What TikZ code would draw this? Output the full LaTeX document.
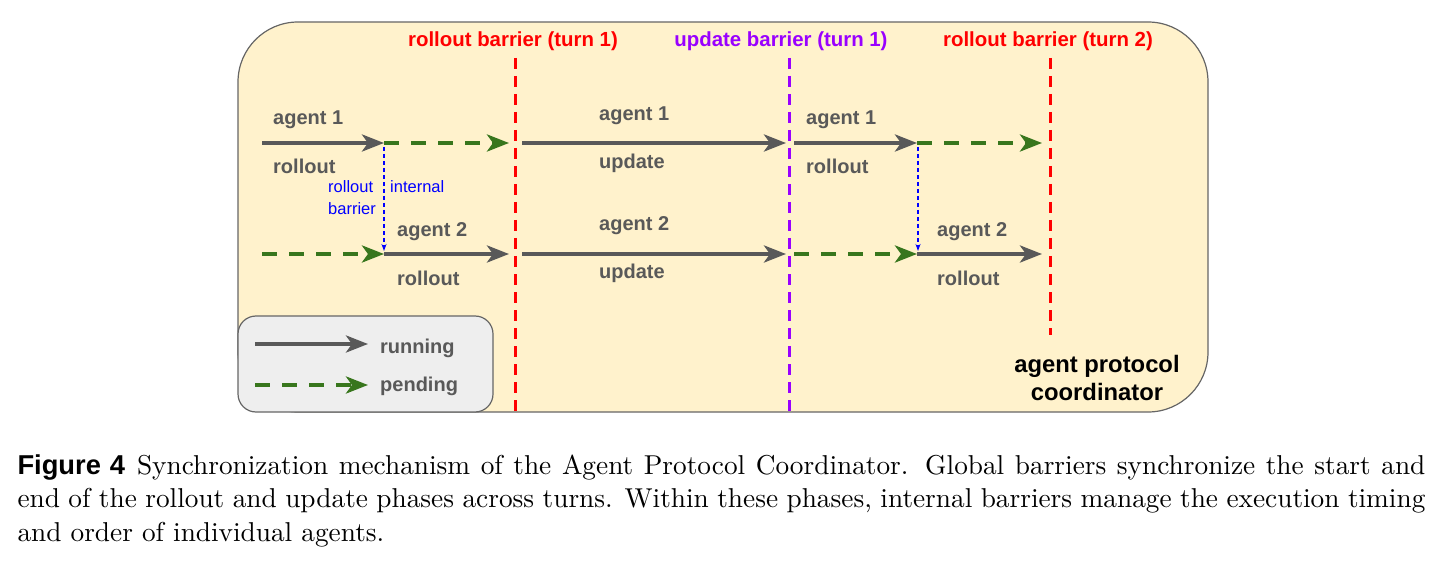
\documentclass[tikz,border=0pt]{standalone}
\usepackage{fontspec}
\newfontfamily\diag{Liberation Sans}
\usetikzlibrary{arrows.meta}
\definecolor{runc}{HTML}{595959}
\definecolor{pendc}{HTML}{38761D}
\definecolor{boxfill}{HTML}{FFF2CC}
\definecolor{boxline}{HTML}{666666}
\definecolor{legfill}{HTML}{EEEEEE}
\definecolor{redb}{HTML}{FF0000}
\definecolor{purpb}{HTML}{9900FF}
\definecolor{blueb}{HTML}{0000FF}
\begin{document}
\begin{tikzpicture}[x=1pt,y=-1pt,
  run/.style={draw=runc, line width=4pt, -{Stealth[length=22pt,width=17pt,inset=6pt]}},
  pend/.style={draw=pendc, line width=4pt, dash pattern=on 15pt off 12pt, -{Stealth[length=22pt,width=17pt,inset=6pt]}},
  barr/.style={line width=3pt, dash pattern=on 11pt off 7pt},
  intb/.style={draw=blueb, line width=1.3pt, dash pattern=on 4pt off 3pt, -{Stealth[length=7pt,width=5pt]}},
  lab/.style={font=\diag\bfseries\fontsize{20}{24}\selectfont, text=runc, inner sep=0pt, anchor=base west},
  blab/.style={font=\diag\fontsize{16.5}{20}\selectfont, text=blueb, inner sep=0pt, anchor=base west},
  blabel/.style={font=\diag\bfseries\fontsize{20.4}{24}\selectfont, inner sep=0pt, anchor=base},
]
\useasboundingbox (0,0) rectangle (1442,561);

% containers
\draw[draw=boxline, fill=boxfill, line width=1.2pt, rounded corners=60pt] (238,22) rectangle (1208,412);
\draw[draw=boxline, fill=legfill, line width=1.2pt, rounded corners=18pt] (238,316) rectangle (493,412);

% barriers
\coordinate (rb1t) at (515,58);  \coordinate (rb1b) at (515,412);
\coordinate (ub1t) at (789,58);  \coordinate (ub1b) at (789,412);
\coordinate (rb2t) at (1050,58); \coordinate (rb2b) at (1050,335);
\draw[barr, draw=redb] (rb1t) -- (rb1b);
\draw[barr, draw=purpb] (ub1t) -- (ub1b);
\draw[barr, draw=redb] (rb2t) -- (rb2b);
\node[blabel, text=redb] (rb1lab) at (513,47) {rollout barrier (turn 1)};
\node[blabel, text=purpb] (ub1lab) at (781,47) {update barrier (turn 1)};
\node[blabel, text=redb] (rb2lab) at (1048,47) {rollout barrier (turn 2)};

% row coordinates
\coordinate (a0) at (262,143);  \coordinate (a1) at (384,143);
\coordinate (a2) at (509,143);  \coordinate (a3) at (522,143);
\coordinate (a4) at (786,143);  \coordinate (a5) at (794,143);
\coordinate (a6) at (917,143);  \coordinate (a7) at (1042,143);
\coordinate (b0) at (262,254);  \coordinate (b1) at (384,254);
\coordinate (b2) at (509,254);  \coordinate (b3) at (522,254);
\coordinate (b4) at (786,254);  \coordinate (b5) at (794,254);
\coordinate (b6) at (917,254);  \coordinate (b7) at (1042,254);

% agent 1
\draw[run]  (a0) -- (a1);
\draw[pend] (a1) -- (a2);
\draw[run]  (a3) -- (a4);
\draw[run]  (a5) -- (a6);
\draw[pend] (a6) -- (a7);
% agent 2
\draw[pend] (b0) -- (b1);
\draw[run]  (b1) -- (b2);
\draw[run]  (b3) -- (b4);
\draw[pend] (b5) -- (b6);
\draw[run]  (b6) -- (b7);

% internal barriers
\coordinate (i1t) at (384,147); \coordinate (i1b) at (384,251);
\coordinate (i2t) at (918,147); \coordinate (i2b) at (918,251);
\draw[intb] (i1t) -- (i1b);
\draw[intb] (i2t) -- (i2b);
\node[blab] (ib1) at (328,193) {rollout};
\node[blab] (ib2) at (328,215) {barrier};
\node[blab] (ib3) at (390,193) {internal};

% labels
\node[lab] (l1) at (273,125) {agent 1};
\node[lab] (l2) at (273,174) {rollout};
\node[lab] (l3) at (397,237) {agent 2};
\node[lab] (l4) at (397,285) {rollout};
\node[lab] (l5) at (599,121) {agent 1};
\node[lab] (l6) at (599,169) {update};
\node[lab] (l7) at (599,231) {agent 2};
\node[lab] (l8) at (599,279) {update};
\node[lab] (l9) at (806,125) {agent 1};
\node[lab] (l10) at (806,174) {rollout};
\node[lab] (l11) at (937,237) {agent 2};
\node[lab] (l12) at (937,285) {rollout};

% legend
\coordinate (g0) at (255,344); \coordinate (g1) at (368,344);
\coordinate (h0) at (255,385); \coordinate (h1) at (368,385);
\draw[run] (g0) -- (g1);
\draw[pend] (h0) -- (h1);
\node[lab] (lr) at (380,353) {running};
\node[lab] (lp) at (380,391) {pending};

% coordinator label
\node[font=\diag\bfseries\fontsize{23.8}{28}\selectfont, align=center, inner sep=0pt, anchor=base] (apc) at (1097,400) {agent protocol\\coordinator};

% caption
\node[anchor=base west, inner sep=0pt, scale=2.73, text width=515.7pt, align=justify,
      font=\fontsize{10}{12.45}\selectfont] (cap) at (17,474)
 {{\diag\bfseries Figure 4}\hspace{4.4pt}Synchronization mechanism of the Agent Protocol Coordinator. Global barriers synchronize the start and\linebreak
  end of the rollout and update phases across turns. Within these phases, internal barriers manage the execution timing\linebreak
  and order of individual agents.};
\end{tikzpicture}
\end{document}
